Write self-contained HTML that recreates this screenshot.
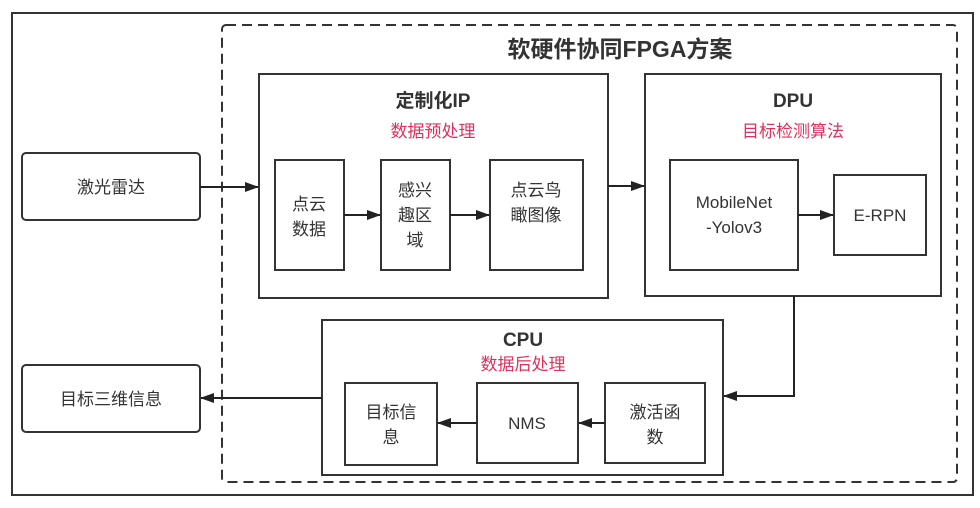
<!DOCTYPE html>
<html><head><meta charset="utf-8"><style>
body{margin:0;background:#fff;}
svg text{font-family:"Liberation Sans","Noto Sans CJK SC",sans-serif;fill:#333;}
</style></head><body>
<svg width="980" height="503" viewBox="0 0 980 503" xmlns="http://www.w3.org/2000/svg">
<defs><marker id="a" markerWidth="14" markerHeight="10" refX="13" refY="5" orient="auto" markerUnits="userSpaceOnUse"><path d="M0,0 L14,5 L0,10 z" fill="#222"/></marker></defs>
<g fill="none" stroke="#333" stroke-width="2">
<rect x="12" y="13" width="961" height="482"/>
<rect x="222" y="25" width="735" height="457" rx="4" stroke-dasharray="10,6"/>
<rect x="22" y="153" width="178" height="67" rx="4"/>
<rect x="22" y="365" width="178" height="67" rx="4"/>
<rect x="259" y="74" width="349" height="224"/>
<rect x="275" y="160" width="69" height="110"/>
<rect x="381" y="160" width="69" height="110"/>
<rect x="490" y="160" width="93" height="110"/>
<rect x="645" y="74" width="296" height="222"/>
<rect x="670" y="160" width="128" height="110"/>
<rect x="834" y="175" width="92" height="80"/>
<rect x="322" y="320" width="401" height="155"/>
<rect x="345" y="383" width="92" height="82"/>
<rect x="477" y="383" width="101" height="80"/>
<rect x="605" y="383" width="100" height="80"/>
</g>
<g stroke="#222" stroke-width="2" fill="none" marker-end="url(#a)">
<line x1="200" y1="187" x2="258" y2="187"/>
<line x1="344" y1="215" x2="380" y2="215"/>
<line x1="450" y1="215" x2="489" y2="215"/>
<line x1="608" y1="186" x2="644" y2="186"/>
<line x1="798" y1="215" x2="833" y2="215"/>
<polyline points="794,296 794,396 724,396"/>
<line x1="605" y1="423" x2="579" y2="423"/>
<line x1="477" y1="423" x2="438" y2="423"/>
<line x1="322" y1="398" x2="201" y2="398"/>
</g>
<g font-size="17" text-anchor="middle">
<text x="620" y="57" font-size="23" font-weight="bold" fill="#222">软硬件协同FPGA方案</text>
<text x="433" y="107" font-size="19" font-weight="bold">定制化IP</text>
<text x="433" y="137" style="fill:#e0305a">数据预处理</text>
<text x="793" y="107" font-size="19" font-weight="bold">DPU</text>
<text x="793" y="137" style="fill:#e0305a">目标检测算法</text>
<text x="523" y="346" font-size="19" font-weight="bold">CPU</text>
<text x="523" y="370" style="fill:#e0305a">数据后处理</text>
<text x="111" y="193">激光雷达</text>
<text x="111" y="405">目标三维信息</text>
<text x="309" y="210">点云</text><text x="309" y="235">数据</text>
<text x="415" y="196">感兴</text><text x="415" y="221">趣区</text><text x="415" y="246">域</text>
<text x="536" y="196">点云鸟</text><text x="536" y="221">瞰图像</text>
<text x="734" y="208">MobileNet</text><text x="734" y="233">-Yolov3</text>
<text x="880" y="221">E-RPN</text>
<text x="391" y="418">目标信</text><text x="391" y="443">息</text>
<text x="527" y="429">NMS</text>
<text x="655" y="418">激活函</text><text x="655" y="443">数</text>
</g>
</svg>
</body></html>
